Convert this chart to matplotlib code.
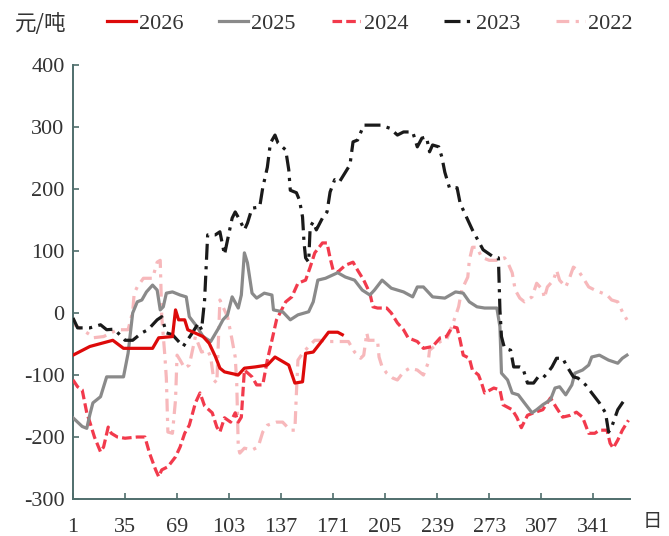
import matplotlib
matplotlib.use("Agg")
import matplotlib.pyplot as plt

# Spread series (元/吨) by day of year, one list pair per year
days_2026 = [1, 12, 27, 34, 53, 57, 66, 68, 70, 74, 76, 86, 90, 94, 97, 100, 109, 113, 120, 128,
             133, 142, 146, 151, 153, 158, 164, 168, 174, 177]
vals_2026 = [-68, -54, -44, -57, -57, -40, -38, 5, -11, -11, -27, -38, -49, -70, -89, -95, -100, -89, -87, -84,
             -71, -84, -113, -111, -65, -63, -44, -31, -31, -35]

days_2025 = [1, 7, 10, 12, 14, 19, 21, 23, 34, 37, 40, 43, 46, 49, 53, 56, 58, 60, 62, 66, 71, 75, 77, 82, 86,
             91, 96, 99, 102, 105, 109, 111, 113, 115, 118, 121, 126, 131, 132, 138, 143, 148, 155, 158, 161,
             166, 174, 179, 185, 190, 195, 198, 203, 209, 217, 223, 226, 230, 236, 244, 251, 256, 260, 265,
             270, 278, 280, 281, 285, 288, 292, 296, 301, 304, 308, 313, 316, 319, 323, 327, 329, 334, 338,
             340, 345, 351, 357, 360, 363]
vals_2025 = [-169, -183, -186, -164, -145, -135, -119, -103, -103, -65, 0, 18, 21, 34, 45, 37, 5, 10, 32, 34, 29,
             26, -6, -22, -38, -46, -25, -11, -3, 26, 8, 29, 97, 81, 32, 24, 32, 29, 5, 2, -11, -3, 2, 18, 53,
             56, 65, 58, 53, 37, 29, 37, 53, 40, 34, 26, 42, 42, 26, 24, 34, 32, 18, 10,
             8, 8, -22, -97, -108, -129, -132, -145, -161, -156, -148, -140, -121, -119, -132, -116, -97, -92, -84,
             -71, -68, -76, -81, -73, -68]

days_2024 = [1, 4, 7, 10, 12, 15, 19, 21, 24, 26, 30, 35, 43, 48, 51, 55, 57, 59, 63, 68, 71, 74, 77, 81, 84,
             87, 92, 95, 97, 100, 104, 107, 109, 111, 113, 118, 121, 125, 128, 131, 134, 140, 144, 148, 153,
             156, 159, 164, 167, 169, 171, 174, 179, 184, 187, 191, 195, 197, 200, 206, 209, 213, 217, 220,
             226, 230, 236, 241, 245, 249, 252, 254, 256, 260, 262, 266, 268, 270, 276, 280, 282, 288, 291,
             294, 298, 302, 308, 313, 317, 321, 326, 330, 334, 338, 342, 345, 350, 352, 354, 357, 360, 364]
vals_2024 = [-108, -119, -124, -161, -176, -200, -224, -216, -184, -194, -200, -202, -200, -200, -226, -253, -264,
             -253, -248, -232, -216, -194, -181, -145, -129, -150, -161, -184, -192, -169, -176, -161, -176,
             -168, -92, -103, -116, -116, -76, -44, -11, 18, 26, 48, 53, 74, 97, 113, 113, 89, 69, 66, 77, 82,
             69, 53, 32, 10, 8, 8, 0, -16, -27, -40, -46, -57, -54, -40, -38, -22, -24, -44, -68, -73, -92,
             -100, -113, -129, -121, -124, -148, -156, -168, -185, -165, -161, -156, -137, -153, -168, -165,
             -160, -168, -194, -194, -189, -189, -210, -218, -205, -189, -173]

days_2023 = [1, 4, 12, 19, 23, 28, 35, 40, 46, 50, 56, 59, 62, 66, 73, 79, 83, 85, 87, 89, 94, 97, 100, 102,
             105, 107, 110, 113, 115, 118, 123, 125, 128, 130, 133, 135, 140, 142, 143, 147, 149, 151, 152,
             153, 155, 156, 158, 160, 164, 167, 169, 172, 175, 180, 182, 184, 187, 191, 196, 202, 208, 213,
             217, 223, 226, 229, 232, 234, 236, 240, 242, 244, 247, 252, 254, 259, 262, 269, 276, 279, 280,
             281, 283, 287, 289, 293, 295, 298, 302, 305, 308, 311, 314, 317, 321, 324, 328, 331, 336, 340,
             345, 349, 351, 353, 357, 360, 363]
vals_2023 = [-8, -24, -24, -19, -27, -26, -44, -44, -32, -27, -11, -6, -32, -35, -54, -32, -16, -27, 21, 126,
             126, 131, 94, 118, 153, 163, 150, 134, 145, 169, 171, 202, 235, 274, 287, 274, 263, 231, 198,
             194, 182, 155, 113, 89, 82, 139, 147, 134, 153, 163, 195, 215, 211, 231, 239, 276, 279, 303,
             303, 303, 298, 287, 292, 292, 268, 282, 284, 260, 271, 268, 252, 227, 202, 202, 177, 150, 134,
             102, 90, 89, 5, -38, -57, -60, -87, -87, -89, -113, -113, -103, -105, -97, -87, -73, -73, -87,
             -103, -105, -116, -129, -145, -161, -192, -184, -156, -145, -135]

days_2022 = [1, 2, 4, 12, 14, 21, 30, 37, 40, 41, 43, 47, 53, 56, 58, 59, 61, 62, 63, 66, 68, 69, 71, 74, 77,
             81, 85, 89, 91, 93, 95, 97, 99, 102, 105, 107, 108, 109, 110, 113, 118, 122, 125, 128, 134, 138,
             143, 146, 147, 148, 151, 155, 159, 162, 168, 174, 181, 185, 189, 191, 193, 194, 200, 201, 203,
             206, 210, 213, 217, 221, 226, 230, 233, 234, 238, 241, 245, 249, 253, 255, 259, 260, 262, 265,
             268, 273, 279, 283, 285, 288, 290, 293, 296, 301, 304, 308, 309, 311, 315, 317, 319, 323, 325,
             328, 331, 334, 338, 342, 347, 350, 353, 357, 360, 363]
vals_2022 = [-11, -19, -22, -35, -40, -38, -27, -27, 2, 32, 42, 56, 56, 82, 85, -6, -68, -105, -192, -194, -140,
             -68, -76, -89, -84, -38, -63, -60, -71, -108, -113, 21, 10, -6, -44, -71, -113, -216, -226,
             -218, -221, -216, -192, -181, -176, -176, -189, -189, -129, -76, -65, -54, -44, -44, -46, -46,
             -46, -63, -73, -68, -32, -44, -44, -71, -87, -97, -105, -108, -95, -89, -92, -100, -81, -60,
             -52, -46, -44, -19, 10, 37, 58, 85, 106, 106, 90, 85, 85, 89, 82, 65, 37, 24, 18, 26, 48, 37,
             24, 42, 53, 69, 53, 42, 53, 74, 69, 58, 42, 37, 32, 29, 21, 18, 2, -11]

x_ticks = [1, 35, 69, 103, 137, 171, 205, 239, 273, 307, 341]
y_ticks = [-300, -200, -100, 0, 100, 200, 300, 400]

serif = ["Liberation Serif", "DejaVu Serif"]
cjk = ["Noto Sans CJK SC", "DejaVu Sans"]
axis_color = "#4f6e6c"
text_color = "#333333"

fig = plt.figure(figsize=(6.69, 5.36), dpi=100)
ax = fig.add_axes([73 / 669, 1 - 499 / 536, (630 - 73) / 669, (499 - 65) / 536])

lw = 2.3
ax.plot(days_2022, vals_2022, color="#f7b8bb", lw=lw, dashes=(4, 2, 1, 2), label="2022", zorder=2)
ax.plot(days_2024, vals_2024, color="#f23a4c", lw=lw, dashes=(3, 1.3), label="2024", zorder=3)
ax.plot(days_2025, vals_2025, color="#8a8a8a", lw=lw, label="2025", zorder=4)
ax.plot(days_2023, vals_2023, color="#1a1a1a", lw=lw, dashes=(5, 2, 1, 2), label="2023", zorder=5)
ax.plot(days_2026, vals_2026, color="#dd0a0a", lw=lw, label="2026", zorder=6)

ax.set_xlim(1, 365)
ax.set_ylim(-300, 400)
ax.set_xticks(x_ticks)
ax.set_yticks(y_ticks)
ax.set_xticklabels([str(t) for t in x_ticks], fontfamily=serif, fontsize=16, color=text_color)
ax.set_yticklabels([str(t) for t in y_ticks], fontfamily=serif, fontsize=16, color=text_color)
ax.tick_params(axis="both", direction="in", length=4, width=1.2, color=axis_color)
ax.tick_params(axis="x", pad=13.5)
ax.tick_params(axis="y", pad=6)
for side in ("top", "right"):
    ax.spines[side].set_visible(False)
for side in ("left", "bottom"):
    ax.spines[side].set_color(axis_color)
    ax.spines[side].set_linewidth(1.4)

# Legend row across the top, in year order from newest to oldest
handles, labels = ax.get_legend_handles_labels()
order = ["2026", "2025", "2024", "2023", "2022"]
hmap = dict(zip(labels, handles))
fig.legend([hmap[k] for k in order], order, loc="center left",
           bbox_to_anchor=(107 / 669, 1 - 24 / 536), ncol=5, frameon=False,
           prop={"family": serif, "size": 16}, handlelength=1.3, handletextpad=0.15,
           columnspacing=1.6, borderpad=0, borderaxespad=0, labelcolor=text_color)

fig.text(15 / 669, 1 - 24 / 536, "元/吨", fontfamily=cjk, fontsize=15.5, color=text_color,
         ha="left", va="center")
fig.text(652 / 669, 1 - 522 / 536, "日", fontfamily=cjk, fontsize=14, color=text_color,
         ha="center", va="center")

fig.savefig("out.png", dpi=100, facecolor="white")
